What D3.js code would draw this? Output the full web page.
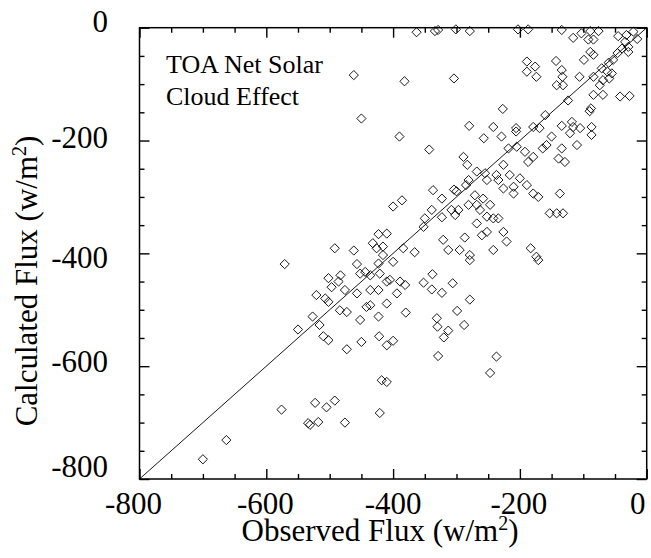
<!DOCTYPE html>
<html>
<head>
<meta charset="utf-8">
<script src="https://cdn.jsdelivr.net/npm/d3@7"></script>
<style>
  html, body { margin: 0; padding: 0; background: #fff; }
  svg { display: block; }
  text { font-family: "Liberation Serif", "Times New Roman", Times, serif; fill: #000; }
</style>
</head>
<body>
<script>
// Observed vs calculated TOA net solar cloud effect (W/m^2)
const observedFlux = [
  -462, -450, -363, -334, -329, -301, -279, -203, -187, -134,
  -116, -103, -89, -76, -92, -84, -45, -32, -21, -34,
  -29, -39, -29, -46, -89, -84, -99, -53, -71, -62,
  -59, -69, -55, -84, -74, -84, -69, -42, -27, -189,
  -176, -189, -174, -143, -134, -133, -142, -132, -106, -382,
  -304, -227, -160, -124, -88, -90, -280, -242, -206, -179,
  -169, -134, -118, -116, -105, -87, -15, -60,
  -492, -462, -423, -432, -426, -416, -410, -416,
  -390, -343, -257, -229, -206, -218, -205, -192, -187, -179,
  -164, -158, -150, -134, -139, -129, -110, -121, -87, -289,
  -283, -268, -255, -252, -226, -237, -234, -216, -226, -200,
  -189, -210, -210, -179, -171, -137, -153, -142, -132, -337,
  -323, -304, -300, -285, -281, -271, -258, -281, -268, -263,
  -247, -308, -302, -297, -323, -339, -350, -352, -386, -400,
  -268, -252, -242, -234, -260, -252, -226, -221, -321, -313,
  -295, -287, -279, -242, -183, -174, -366, -384,
  -571, -502, -483, -497, -521, -507, -502, -486, -476, -457,
  -452, -444, -436, -423, -457, -436, -423, -410, -410, -436,
  -442, -484, -473, -527, -516, -452, -423, -550, -510, -502,
  -473, -450, -422, -410, -418, -410,
  -400, -421, -405, -389, -381, -394, -380, -352, -338, -339,
  -323, -306, -279, -299, -331, -330, -313, -320, -288, -400,
  -329, -237, -247, -279, -171,
  -700, -663, -576, -523, -534, -531, -518, -505, -492, -476, -421
];
const calculatedFlux = [
  -84, -161, -8, -6, -4, -3, -6, -3, -3, -4,
  -18, -10, -6, -6, -21, -21, -15, -13, -7, -25,
  -34, -37, -43, -45, -43, -48, -57, -57, -72, -78,
  -90, -93, -81, -87, -102, -119, -119, -122, -121, -60,
  -69, -78, -87, -59, -75, -87, -102, -102, -87, -95,
  -90, -144, -155, -129, -143, -148, -174, -176, -178, -176,
  -178, -174, -167, -176, -178, -176, -20, -62,
  -391, -395, -366, -382, -391, -388, -365, -403,
  -193, -216, -196, -193, -184, -214, -211, -220, -238, -229,
  -214, -208, -193, -214, -232, -238, -208, -187, -190, -229,
  -243, -255, -258, -270, -243, -261, -270, -261, -285, -267,
  -279, -282, -294, -294, -300, -294, -329, -329, -329, -288,
  -303, -287, -290, -279, -270, -297, -303, -314, -314, -323,
  -314, -323, -332, -323, -336, -323, -338, -353, -306, -317,
  -347, -335, -338, -338, -368, -362, -362, -379, -376, -394,
  -394, -372, -403, -394, -391, -406, -398, -391,
  -419, -444, -439, -460, -474, -480, -486, -450, -465, -419,
  -436, -433, -439, -418, -471, -465, -465, -450, -489, -492,
  -495, -501, -504, -512, -527, -518, -512, -535, -547, -554,
  -570, -557, -547, -563, -625, -628,
  -415, -436, -447, -450, -456, -471, -505, -452, -437, -464,
  -470, -453, -482, -502, -515, -530, -537, -549, -527, -555,
  -582, -583, -612, -412, -412,
  -765, -731, -677, -665, -701, -704, -699, -673, -661, -700, -683
];
const tickValues = [-800, -600, -400, -200, 0];
const tickLabels = ["-800", "-600", "-400", "-200", "0"];
const minorStep = 50;
const annotationLines = ["TOA Net Solar", "Cloud Effect"];

const W = 651, H = 558;
const plot = { left: 139.5, right: 646.7, top: 27.7, bottom: 479 };

const svg = d3.select("body").append("svg")
  .attr("width", W).attr("height", H)
  .attr("viewBox", `0 0 ${W} ${H}`);

svg.append("rect").attr("width", W).attr("height", H).attr("fill", "#fff");

const x = d3.scaleLinear().domain([-800, 0]).range([plot.left, plot.right]);
const y = d3.scaleLinear().domain([-800, 0]).range([plot.bottom, plot.top]);

const allTicks = d3.range(-800, 0.1, minorStep);
const isMajor = v => tickValues.includes(v);
const majorLen = 10, minorLen = 5;

// Inward ticks on all four sides: negative inner size points them into the plot
function tickSide(axis, translate, len) {
  const g = svg.append("g").attr("transform", translate);
  g.call(axis.tickValues(allTicks).tickFormat("").tickSizeOuter(0).tickSizeInner(-minorLen));
  g.select(".domain").remove();
  g.selectAll(".tick line")
    .attr("stroke", "#000")
    .attr("stroke-width", 1.4)
    .each(function (d) {
      const sel = d3.select(this);
      const size = -(isMajor(d) ? majorLen : minorLen);
      if (sel.attr("x2") !== null) sel.attr("x2", len(size));
      else sel.attr("y2", len(size));
    });
  return g;
}

tickSide(d3.axisBottom(x), `translate(0,${plot.bottom})`, s => s);
tickSide(d3.axisTop(x), `translate(0,${plot.top})`, s => -s);
tickSide(d3.axisLeft(y), `translate(${plot.left},0)`, s => -s);
tickSide(d3.axisRight(y), `translate(${plot.right},0)`, s => s);

// Frame
svg.append("rect")
  .attr("x", plot.left).attr("y", plot.top)
  .attr("width", plot.right - plot.left).attr("height", plot.bottom - plot.top)
  .attr("fill", "none").attr("stroke", "#000").attr("stroke-width", 1.5);

// 1:1 line
svg.append("line")
  .attr("x1", x(-800)).attr("y1", y(-800))
  .attr("x2", x(0)).attr("y2", y(0))
  .attr("stroke", "#000").attr("stroke-width", 0.9);

// Open diamond markers
const r = 4.6;
const diamond = `M0,${-r}L${r},0L0,${r}L${-r},0Z`;
svg.append("g").selectAll("path")
  .data(d3.zip(observedFlux, calculatedFlux))
  .join("path")
  .attr("d", diamond)
  .attr("transform", d => `translate(${x(d[0])},${y(d[1])})`)
  .attr("fill", "none")
  .attr("stroke", "#000")
  .attr("stroke-width", 0.9);

// Tick labels
const fontSize = 31;
const xLabelNudge = [-6, -1, 0, -1, -9];
const yLabelNudge = [-2.5, 5.7, 15, 7.8, 4.6];
svg.append("g").selectAll("text")
  .data(tickValues)
  .join("text")
  .attr("x", (d, i) => x(d) + xLabelNudge[i])
  .attr("y", 514)
  .attr("text-anchor", "middle")
  .attr("font-size", fontSize)
  .text((d, i) => tickLabels[i]);

svg.append("g").selectAll("text")
  .data(tickValues)
  .join("text")
  .attr("x", 108)
  .attr("y", (d, i) => y(d) + yLabelNudge[i])
  .attr("text-anchor", "end")
  .attr("font-size", fontSize)
  .text((d, i) => tickLabels[i]);

// Axis titles with superscript units
function unitTitle(sel, main) {
  sel.append("tspan").text(main + " (w/m");
  sel.append("tspan").attr("font-size", 20).attr("dy", -11).text("2");
  sel.append("tspan").attr("dy", 11).text(")");
}

const xTitle = svg.append("text")
  .attr("x", 380).attr("y", 541)
  .attr("text-anchor", "middle")
  .attr("font-size", fontSize);
unitTitle(xTitle, "Observed Flux");

const yTitle = svg.append("text")
  .attr("transform", `translate(37,281) rotate(-90)`)
  .attr("text-anchor", "middle")
  .attr("font-size", fontSize);
unitTitle(yTitle, "Calculated Flux");

// Annotation
svg.append("g").selectAll("text")
  .data(annotationLines)
  .join("text")
  .attr("x", 166)
  .attr("y", (d, i) => 72.7 + i * 32.3)
  .attr("font-size", 26)
  .text(d => d);
</script>
</body>
</html>
